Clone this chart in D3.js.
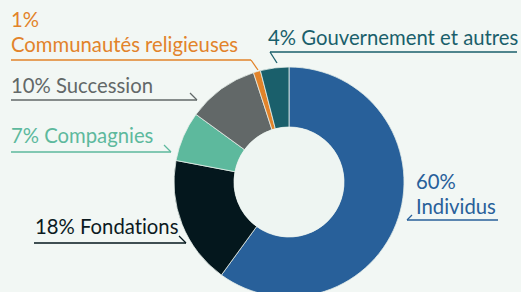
<!DOCTYPE html>
<html>
<head>
<meta charset="utf-8">
<script src="https://cdn.jsdelivr.net/npm/d3@7"></script>
<style>
  body { margin: 0; background: #f2f7f4; }
  svg { display: block; }
  text { font-family: Lato, "Open Sans", sans-serif; font-variant-ligatures: none; }
</style>
</head>
<body>
<div id="chart"></div>
<script>
const svgWidth = 521
const svgHeight = 292

// data, clockwise from 12 o'clock
const categories = ["Individus", "Fondations", "Compagnies", "Succession", "Communautés religieuses", "Gouvernement et autres"]
const shares = [60, 18, 7, 10, 1, 4]
const colors = ["#28609a", "#04171d", "#5db99d", "#626868", "#e2832a", "#1a5f6b"]

// label lines (text rows) per slice
const labelLines = [
  ["60%", "Individus"],
  ["18% Fondations"],
  ["7% Compagnies"],
  ["10% Succession"],
  ["1%", "Communautés religieuses"],
  ["4% Gouvernement et autres"]
]

// annotation layout: text anchor x / last baseline, underline, tick
const annoLayout = [
  { x: 416, y: 214, line: [[407, 220], [498, 220]], tick: [[407, 220], [412, 215]] },
  { x: 35, y: 234, line: [[34, 243], [186, 243]], tick: [[179, 236], [186, 243]] },
  { x: 11, y: 143, line: [[11, 152], [171, 152]], tick: [[164, 145], [171, 152]] },
  { x: 11, y: 93, line: [[11, 100], [197, 100]], tick: [[190, 93], [197, 100]] },
  { x: 11, y: 52, line: [[11, 60], [251, 60]], tick: [[251, 60], [258, 70]] },
  { x: 268, y: 45, line: [[270, 52], [517, 52]], tick: [[270, 52], [277, 63]] }
]

const cx = 289
const cy = 182
const outerR = 115
const innerR = 55

let svg = d3
  .select("#chart")
  .append("svg")
  .attr("width", svgWidth)
  .attr("height", svgHeight)

svg.append("rect")
  .attr("width", svgWidth)
  .attr("height", svgHeight)
  .attr("fill", "#f2f7f4")

let pieGroup = svg.append("g")
  .attr("transform", `translate(${cx}, ${cy})`)

let pie = d3.pie().sort(null).value(d => d)
let arc = d3.arc().innerRadius(innerR).outerRadius(outerR)

pieGroup.selectAll("path.slice")
  .data(pie(shares))
  .enter()
  .append("path")
  .classed("slice", true)
  .attr("d", arc)
  .attr("fill", (d, i) => colors[i])
  .attr("stroke", "#e4ede9")
  .attr("stroke-width", 0.8)

pieGroup.append("circle")
  .attr("r", innerR)
  .attr("fill", "#eef5f2")

let line = d3.line()

let annos = svg.selectAll("g.anno")
  .data(annoLayout)
  .enter()
  .append("g")
  .classed("anno", true)

annos.each(function(a, i) {
  let g = d3.select(this)
  let rows = labelLines[i]
  rows.forEach((t, k) => {
    g.append("text")
      .attr("x", a.x)
      .attr("y", a.y - (rows.length - 1 - k) * 25)
      .attr("fill", colors[i] === "#04171d" ? "#0c1a1f" : colors[i])
      .attr("font-size", "20.3px")
      .text(t)
  })
  g.append("path")
    .attr("d", line(a.line))
    .attr("stroke", colors[i])
    .attr("stroke-width", 1.3)
    .attr("fill", "none")
  g.append("path")
    .attr("d", line(a.tick))
    .attr("stroke", colors[i])
    .attr("stroke-width", 1.3)
    .attr("fill", "none")
})
</script>
</body>
</html>
